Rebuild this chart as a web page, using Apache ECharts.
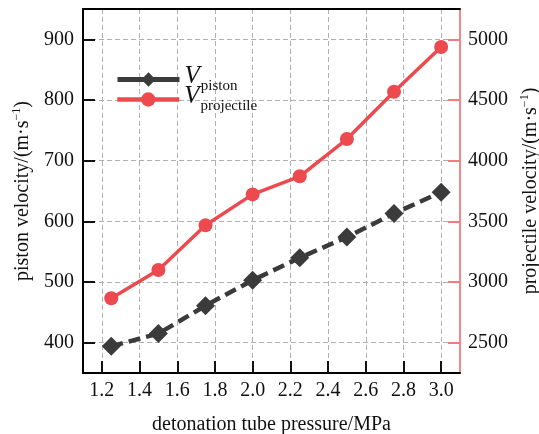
<!DOCTYPE html>
<html><head><meta charset="utf-8">
<script src="https://cdn.jsdelivr.net/npm/echarts@6/dist/echarts.min.js"></script>
<style>html,body{margin:0;padding:0;background:#fff}#c{width:539px;height:434px}</style>
</head><body><div id="c"></div>
<script>
const pressure = [1.25, 1.5, 1.75, 2.0, 2.25, 2.5, 2.75, 3.0];
const pistonVelocity = [394, 415, 461, 503, 540, 574, 613, 648];
const projectileVelocity = [2866, 3099, 3467, 3722, 3871, 4178, 4568, 4937];
const xTicks = [1.2, 1.4, 1.6, 1.8, 2.0, 2.2, 2.4, 2.6, 2.8, 3.0];
const leftTicks = [400, 500, 600, 700, 800, 900];
const rightTicks = [2500, 3000, 3500, 4000, 4500, 5000];

const FONT = '"Liberation Serif", "DejaVu Serif", serif';
const RED = '#ec4a4e';
const DARK = '#3b3b3b';
const gridLine = {show: true, lineStyle: {color: '#b0b0b0', type: [5, 3], width: 1}};

const legendText = {
  rich: {
    v: {fontFamily: FONT, fontStyle: 'italic', fontSize: 25, color: '#111', lineHeight: 19, verticalAlign: 'bottom'},
    s: {fontFamily: FONT, fontSize: 15, color: '#111', verticalAlign: 'bottom', lineHeight: 12, padding: [0, 0, -5, 1]}
  }
};
function makeLegend(name, top, ls) {
  return {
    orient: 'vertical', left: 115, top: top, itemWidth: 62, itemHeight: 18, padding: 0,
    data: [{name: name, lineStyle: ls}],
    formatter: n => '{v|V}{s|' + n + '}',
    textStyle: legendText
  };
}

const chart = echarts.init(document.getElementById('c'));
chart.setOption({
  animation: false,
  grid: {left: 83, right: 79, top: 9, bottom: 61, outerBoundsMode: 'none', containLabel: false},
  legend: [
    makeLegend('piston', 64, {type: 'solid', width: 5}),
    makeLegend('projectile', 84, {width: 4.5})
  ],
  xAxis: [{
    type: 'value', min: 1.1, max: 3.1,
    name: 'detonation tube pressure/MPa', nameLocation: 'middle', nameGap: 42,
    nameTextStyle: {fontFamily: FONT, fontSize: 20, color: '#111'},
    axisLine: {show: true, lineStyle: {color: '#000', width: 2}},
    axisTick: {show: true, inside: true, length: 12, customValues: xTicks, lineStyle: {color: '#111', width: 2}},
    axisLabel: {customValues: xTicks, margin: 8, fontFamily: FONT, fontSize: 20, color: '#111', formatter: v => v.toFixed(1)},
    splitLine: gridLine
  }, {
    type: 'value', min: 1.1, max: 3.1, position: 'top',
    axisLine: {show: true, lineStyle: {color: '#000', width: 2}},
    axisTick: {show: false}, axisLabel: {show: false}, splitLine: {show: false}
  }],
  yAxis: [{
    type: 'value', min: 350, max: 950, position: 'left',
    name: '{a|piston velocity/(m·s}{b|−1}{a|)}', nameLocation: 'middle', nameGap: 50,
    nameTextStyle: {rich: {
      a: {fontFamily: FONT, fontSize: 20, color: '#111', lineHeight: 22, verticalAlign: 'bottom'},
      b: {fontFamily: FONT, fontSize: 12, color: '#111', lineHeight: 22, verticalAlign: 'top'}
    }},
    axisLine: {show: true, lineStyle: {color: '#000', width: 2}},
    axisTick: {show: true, inside: true, length: 12, customValues: leftTicks, lineStyle: {color: '#111', width: 2}},
    axisLabel: {customValues: leftTicks, margin: 9, fontFamily: FONT, fontSize: 20, color: '#111'},
    splitLine: gridLine
  }, {
    type: 'value', min: 2250, max: 5250, position: 'right',
    name: '{a|projectile velocity/(m·s}{b|−1}{a|)}', nameLocation: 'middle', nameGap: 57,
    nameTextStyle: {rich: {
      a: {fontFamily: FONT, fontSize: 20, color: '#111', lineHeight: 22, verticalAlign: 'bottom'},
      b: {fontFamily: FONT, fontSize: 12, color: '#111', lineHeight: 22, verticalAlign: 'top'}
    }},
    axisLine: {show: true, lineStyle: {color: '#f06060', width: 1.5}},
    axisTick: {show: true, inside: true, length: 12, customValues: rightTicks, lineStyle: {color: '#f47c7c', width: 2}},
    axisLabel: {customValues: rightTicks, margin: 8, fontFamily: FONT, fontSize: 20, color: '#111', formatter: v => String(v)},
    splitLine: {show: false}
  }],
  series: [{
    name: 'piston', type: 'line', xAxisIndex: 0, yAxisIndex: 0,
    data: pressure.map((x, i) => [x, pistonVelocity[i]]),
    symbol: 'diamond', symbolSize: 19,
    lineStyle: {color: DARK, width: 4.5, type: [12, 6]},
    itemStyle: {color: DARK}, z: 3
  }, {
    name: 'projectile', type: 'line', xAxisIndex: 0, yAxisIndex: 1,
    data: pressure.map((x, i) => [x, projectileVelocity[i]]),
    symbol: 'circle', symbolSize: 14,
    lineStyle: {color: RED, width: 3.5},
    itemStyle: {color: RED}, z: 3
  }]
});
</script></body></html>
